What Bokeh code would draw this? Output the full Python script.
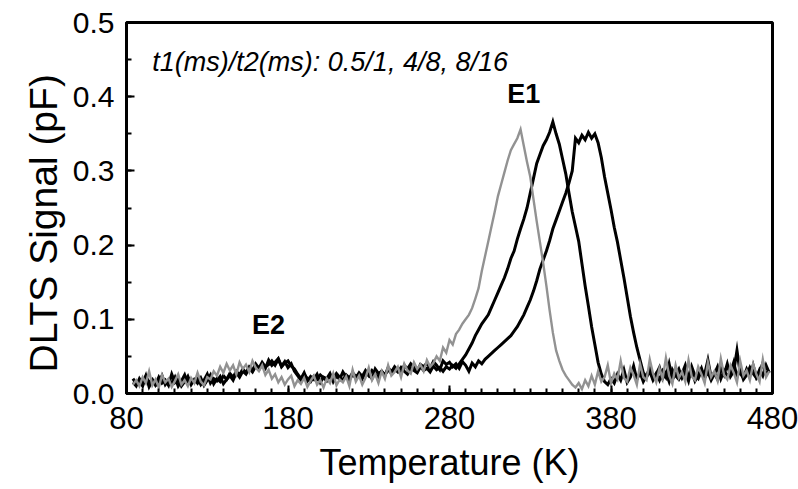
from bokeh.plotting import figure
from bokeh.models import Range1d, FixedTicker, PrintfTickFormatter, Label, Title
from bokeh.embed import file_html
from bokeh.resources import INLINE

# DLTS spectra, sampled every 2 K from 84 K to 478 K
t_start, t_step = 84, 2

# rate window t1/t2 = 0.5/1 ms
sig_05_1 = [
    .012, .018, .010, .022, .014, .030, .011, .019, .008, .025,
    .015, .020, .009, .017, .026, .012, .018, .010, .021, .014,
    .028, .016, .011, .022, .019, .030, .024, .036, .028, .040,
    .031, .038, .026, .042, .033, .039, .029, .044, .035, .030,
    .038, .025, .032, .020, .026, .015, .022, .012, .019, .024,
    .010, .018, .013, .021, .009, .017, .024, .012, .018, .008,
    .020, .014, .027, .011, .019, .015, .023, .010, .032, .016,
    .024, .012, .021, .035, .018, .026, .014, .030, .020, .038,
    .024, .029, .036, .022, .040, .031, .027, .042, .033, .039,
    .030, .045, .036, .041, .050, .044, .062, .055, .072, .066,
    .080, .086, .094, .100, .106, .115, .128, .142, .165, .185,
    .205, .225, .245, .266, .282, .298, .314, .328, .336, .344,
    .356, .334, .312, .292, .262, .232, .204, .176, .145, .112,
    .082, .058, .044, .032, .024, .018, .012, .008, .014, .006,
    .018, .010, .024, .012, .030, .016, .022, .038, .014, .027,
    .019, .044, .021, .016, .035, .025, .012, .040, .022, .018,
    .046, .027, .015, .034, .020, .048, .024, .013, .038, .021,
    .029, .016, .045, .023, .018, .036, .026, .014, .042, .022,
    .030, .017, .047, .025, .019, .038, .028, .015, .044, .024,
    .031, .018, .040, .026, .016, .046, .022, .030,
]

# rate window t1/t2 = 4/8 ms
sig_4_8 = [
    .015, .010, .020, .013, .024, .009, .017, .012, .022, .014,
    .018, .011, .026, .015, .020, .010, .016, .023, .012, .019,
    .014, .021, .011, .018, .025, .013, .020, .016, .024, .019,
    .027, .022, .030, .025, .033, .028, .036, .031, .040, .034,
    .042, .036, .039, .044, .038, .046, .037, .043, .035, .040,
    .030, .024, .018, .026, .020, .016, .023, .019, .025, .021,
    .017, .024, .020, .027, .022, .018, .025, .021, .028, .023,
    .026, .020, .029, .024, .031, .026, .022, .030, .025, .032,
    .027, .033, .029, .035, .030, .026, .034, .031, .028, .036,
    .031, .034, .029, .037, .032, .035, .030, .036, .033, .038,
    .034, .040, .046, .052, .060, .068, .078, .086, .094, .100,
    .106, .116, .126, .136, .146, .156, .168, .182, .192, .208,
    .222, .235, .250, .270, .290, .310, .322, .334, .342, .352,
    .366, .350, .336, .316, .296, .270, .245, .225, .205, .175,
    .145, .118, .090, .066, .042, .026, .016, .012, .020, .014,
    .026, .018, .032, .015, .022, .037, .019, .028, .016, .024,
    .034, .020, .027, .018, .030, .022, .040, .019, .026, .033,
    .021, .029, .017, .036, .024, .020, .031, .026, .045, .022,
    .028, .019, .034, .025, .040, .023, .030, .058, .027, .021,
    .033, .024, .038, .022, .029, .041, .026, .031,
]

# rate window t1/t2 = 8/16 ms
sig_8_16 = [
    .020, .013, .017, .010, .023, .015, .019, .011, .016, .024,
    .012, .018, .014, .022, .010, .017, .025, .013, .019, .015,
    .021, .012, .018, .026, .014, .020, .017, .023, .013, .019,
    .024, .018, .028, .022, .030, .026, .034, .029, .037, .032,
    .040, .034, .045, .038, .042, .047, .036, .041, .044, .037,
    .033, .026, .020, .028, .017, .023, .019, .026, .015, .022,
    .020, .027, .016, .024, .019, .029, .022, .018, .026, .021,
    .028, .023, .031, .025, .020, .033, .027, .030, .024, .035,
    .029, .036, .031, .027, .038, .033, .040, .035, .030, .039,
    .036, .041, .034, .043, .038, .032, .044, .039, .042, .036,
    .040, .034, .043, .038, .030, .041, .036, .044, .040, .046,
    .050, .054, .058, .062, .066, .070, .074, .078, .084, .090,
    .098, .106, .116, .126, .138, .152, .168, .180, .192, .206,
    .222, .234, .246, .258, .270, .284, .300, .344, .338, .348,
    .342, .352, .344, .350, .338, .318, .292, .270, .248, .224,
    .204, .180, .156, .130, .104, .082, .062, .045, .028, .022,
    .030, .018, .026, .035, .020, .028, .016, .032, .024, .019,
    .027, .038, .022, .030, .017, .025, .034, .021, .029, .018,
    .026, .036, .020, .031, .024, .028, .042, .022, .033, .019,
    .025, .035, .027, .021, .032, .024, .038, .028,
]

x_ticks = [80, 180, 280, 380, 480]
y_ticks = [0.0, 0.1, 0.2, 0.3, 0.4, 0.5]

FONT = "Liberation Sans"


def temps_for(series):
    return [t_start + t_step * i for i in range(len(series))]


p = figure(
    width=798, height=489,
    output_backend="svg", toolbar_location=None,
    x_range=Range1d(80, 480), y_range=Range1d(0, 0.5),
    min_border_left=126, min_border_right=26,
    min_border_top=22, min_border_bottom=96,
    background_fill_color="white", border_fill_color="white",
)

p.xgrid.visible = False
p.ygrid.visible = False
p.outline_line_color = "black"
p.outline_line_width = 3

p.xaxis.ticker = FixedTicker(ticks=x_ticks, minor_ticks=list(range(80, 481, 10)))
p.yaxis.ticker = FixedTicker(ticks=y_ticks, minor_ticks=[round(0.05 * i, 2) for i in range(11)])
p.yaxis.formatter = PrintfTickFormatter(format="%.1f")

for ax in (p.xaxis[0], p.yaxis[0]):
    ax.axis_line_width = 3
    ax.axis_line_color = "black"
    ax.major_tick_in = 8
    ax.major_tick_out = 0
    ax.minor_tick_in = 5
    ax.minor_tick_out = 0
    ax.major_tick_line_width = 2
    ax.minor_tick_line_width = 2
    ax.major_label_text_font = FONT
    ax.axis_label_text_font = FONT
    ax.axis_label_text_font_style = "normal"
    ax.major_label_text_color = "black"
    ax.axis_label_text_color = "black"

p.xaxis.axis_label = "Temperature (K)"
p.xaxis.major_label_text_font_size = "31px"
p.yaxis.major_label_text_font_size = "30px"
p.xaxis.axis_label_text_font_size = "36px"
p.xaxis.major_label_standoff = 13
p.yaxis.major_label_standoff = 12
p.xaxis.axis_label_standoff = 10

# vertical axis title, set as a side title anchored near the bottom of the frame
p.add_layout(Title(text="DLTS Signal (pF)", align="left", offset=21, standoff=10,
                   text_font=FONT, text_font_size="39px", text_font_style="normal",
                   text_color="black"), "left")

p.line(temps_for(sig_8_16), sig_8_16, line_color="black", line_width=3, line_join="miter")
p.line(temps_for(sig_4_8), sig_4_8, line_color="black", line_width=3, line_join="miter")
p.line(temps_for(sig_05_1), sig_05_1, line_color="#929292", line_width=2.4, line_join="miter")

p.add_layout(Label(x=96, y=0.447, text="t1(ms)/t2(ms): 0.5/1, 4/8, 8/16",
                   text_font=FONT, text_font_style="italic", text_font_size="27px",
                   text_color="black", text_baseline="middle"))
p.add_layout(Label(x=326, y=0.403, text="E1", text_font=FONT, text_font_style="bold",
                   text_font_size="27px", text_color="black",
                   text_align="center", text_baseline="middle"))
p.add_layout(Label(x=168, y=0.092, text="E2", text_font=FONT, text_font_style="bold",
                   text_font_size="27px", text_color="black",
                   text_align="center", text_baseline="middle"))

open("out.html", "w").write(file_html(p, INLINE))
